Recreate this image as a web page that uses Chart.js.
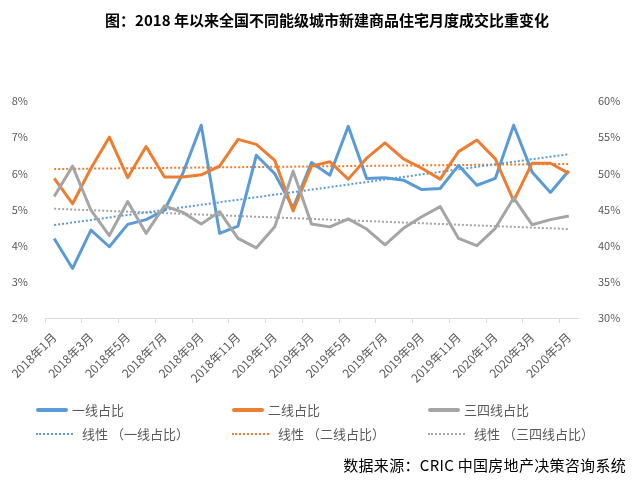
<!DOCTYPE html>
<html lang="zh-CN">
  <head>
    <meta charset="UTF-8" />
    <title>不同能级城市新建商品住宅月度成交比重</title>
    <script src="https://cdn.jsdelivr.net/npm/chart.js"></script>
    <style>
      body { margin: 0; background: #fff; }
      .wrap { position: relative; width: 638px; height: 483px; font-family: "Noto Sans CJK SC", sans-serif; }
      .title { position: absolute; top: 9px; left: 8px; width: 638px; text-align: center; font-size: 15px; font-weight: bold; color: #000; }
      .lg { position: absolute; font-size: 13px; color: #595959; white-space: nowrap; display: flex; align-items: center; }
      .lg i { display: inline-block; margin-right: 4px; }
      .src { position: absolute; right: 12px; top: 454px; font-size: 15px; color: #000; letter-spacing: 0.3px; }
    </style>
  </head>
  <body>
    <div class="wrap">
      <div class="title">图：2018 年以来全国不同能级城市新建商品住宅月度成交比重变化</div>
      <canvas id="chart" width="638" height="483"></canvas>
      <div id="legend"></div>
      <div class="src">数据来源：CRIC 中国房地产决策咨询系统</div>
    </div>

    <script>
      // 月份
      const months = [
        "2018年1月", "2018年2月", "2018年3月", "2018年4月", "2018年5月", "2018年6月",
        "2018年7月", "2018年8月", "2018年9月", "2018年10月", "2018年11月", "2018年12月",
        "2019年1月", "2019年2月", "2019年3月", "2019年4月", "2019年5月", "2019年6月",
        "2019年7月", "2019年8月", "2019年9月", "2019年10月", "2019年11月", "2019年12月",
        "2020年1月", "2020年2月", "2020年3月", "2020年4月", "2020年5月",
      ];
      // 一线占比 (左轴, %)
      const tier1 = [
        4.20, 3.37, 4.43, 3.97, 4.59, 4.72, 4.98, 6.00, 7.33, 4.34, 4.54, 6.50,
        5.99, 5.05, 6.30, 5.95, 7.30, 5.86, 5.88, 5.81, 5.55, 5.58, 6.22, 5.67,
        5.86, 7.33, 6.04, 5.47, 6.07,
      ];
      // 二线占比 (右轴, %)
      const tier2 = [
        49.3, 45.8, 50.7, 55.0, 49.4, 53.7, 49.5, 49.5, 49.8, 51.0, 54.7, 54.0,
        51.8, 44.8, 51.0, 51.6, 49.2, 52.1, 54.2, 52.0, 50.7, 49.2, 53.0, 54.6,
        52.0, 46.2, 51.4, 51.4, 50.0,
      ];
      // 三四线占比 (右轴, %)
      const tier34 = [
        46.8, 51.0, 44.9, 41.4, 46.1, 41.7, 45.5, 44.6, 43.0, 44.7, 41.0, 39.7,
        42.6, 50.3, 43.0, 42.6, 43.7, 42.3, 40.1, 42.4, 44.0, 45.4, 41.0, 40.0,
        42.4, 46.6, 42.9, 43.6, 44.1,
      ];
      // 线性趋势线 起点/终点
      const tier1Trend = [4.57, 6.53];
      const tier2Trend = [50.6, 51.3];
      const tier34Trend = [45.1, 42.3];

      const leftTicks = [2, 3, 4, 5, 6, 7, 8];
      const rightTicks = [30, 35, 40, 45, 50, 55, 60];

      const blue = "#5B9BD5";
      const orange = "#ED7D31";
      const gray = "#A5A5A5";

      // 趋势线只给首尾两点，中间留空由折线连接
      const ends = (t) => months.map((_, i) => (i === 0 ? t[0] : i === months.length - 1 ? t[1] : null));

      const solid = (label, data, color, axis, order) => ({
        label, data, yAxisID: axis, order,
        borderColor: color, backgroundColor: color,
        borderWidth: 3, pointRadius: 0, tension: 0, borderJoinStyle: "round",
      });
      const trend = (label, data, color, axis) => ({
        label, data: ends(data), yAxisID: axis, order: 5, spanGaps: true,
        borderColor: color, backgroundColor: color,
        borderWidth: 2, borderDash: [2, 2], pointRadius: 0,
      });

      const tickFont = { family: "'Noto Sans CJK SC', sans-serif", size: 11 };

      const chart = new Chart(document.getElementById("chart"), {
        type: "line",
        data: {
          labels: months,
          datasets: [
            solid("一线占比", tier1, blue, "yL", 3),
            solid("二线占比", tier2, orange, "yR", 2),
            solid("三四线占比", tier34, gray, "yR", 1),
            trend("线性 （一线占比）", tier1Trend, blue, "yL"),
            trend("线性 （二线占比）", tier2Trend, orange, "yR"),
            trend("线性 （三四线占比）", tier34Trend, gray, "yR"),
          ],
        },
        options: {
          responsive: false,
          animation: false,
          layout: { padding: { top: 101, left: 0, right: 0, bottom: 0 } },
          plugins: { legend: { display: false }, tooltip: { enabled: false } },
          scales: {
            x: {
              offset: true,
              grid: {
                offset: true,
                drawOnChartArea: false,
                tickLength: 5,
                color: (c) => (c.index % 2 === 0 ? "#D9D9D9" : "rgba(0,0,0,0)"),
              },
              border: { color: "#D9D9D9" },
              ticks: {
                autoSkip: false,
                minRotation: 45,
                maxRotation: 45,
                padding: 7,
                color: "#595959",
                font: { family: "'Noto Sans CJK SC', sans-serif", size: 12 },
                callback: (v, i) => (i % 2 === 0 ? months[i] : ""),
              },
              afterFit: (s) => { s.height = 165; },
            },
            yL: {
              position: "left",
              min: leftTicks[0],
              max: leftTicks[leftTicks.length - 1],
              grid: { display: false },
              border: { display: false },
              afterBuildTicks: (s) => { s.ticks = leftTicks.map((v) => ({ value: v })); },
              ticks: { padding: 9, color: "#595959", font: tickFont, callback: (v) => v + "%" },
              afterFit: (s) => { s.width = 45; },
            },
            yR: {
              position: "right",
              min: rightTicks[0],
              max: rightTicks[rightTicks.length - 1],
              grid: { display: false },
              border: { display: false },
              afterBuildTicks: (s) => { s.ticks = rightTicks.map((v) => ({ value: v })); },
              ticks: { padding: 12, color: "#595959", font: tickFont, callback: (v) => v + "%" },
              afterFit: (s) => { s.width = 60; },
            },
          },
        },
      });

      // 图例：三列两行
      const colX = [36, 232, 428];
      const rowY = [400, 424];
      const legend = document.getElementById("legend");
      chart.data.datasets.forEach((ds, i) => {
        const el = document.createElement("div");
        el.className = "lg";
        el.style.left = colX[i % 3] + "px";
        el.style.top = rowY[Math.floor(i / 3)] + "px";
        const mark = document.createElement("i");
        if (ds.borderDash) {
          mark.style.cssText = `width:37px;border-top:2px dotted ${ds.borderColor};margin-right:9px`;
        } else {
          mark.style.cssText = `width:32px;height:4px;border-radius:2px;background:${ds.borderColor}`;
        }
        el.appendChild(mark);
        el.appendChild(document.createTextNode(ds.label));
        legend.appendChild(el);
      });
    </script>
  </body>
</html>
